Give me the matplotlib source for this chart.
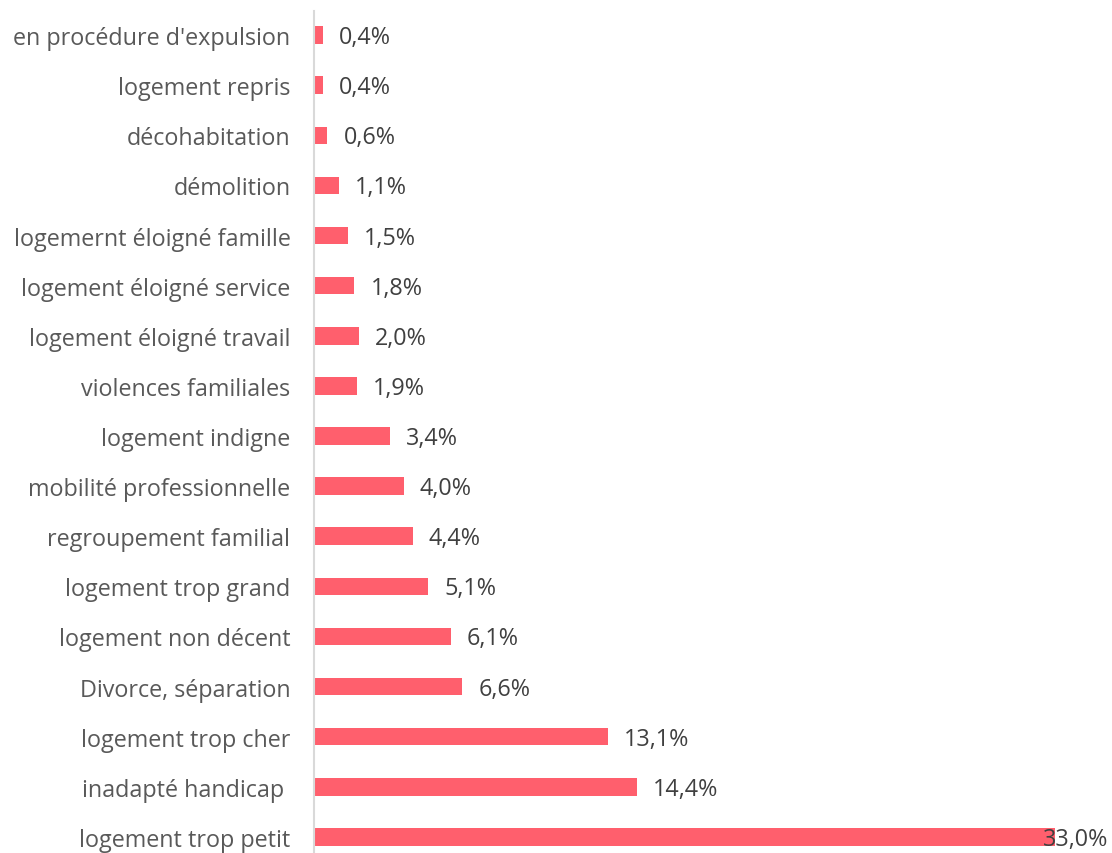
import matplotlib.pyplot as plt

categories = ["logement trop petit", "inadapté handicap ", "logement trop cher",
              "Divorce, séparation", "logement non décent", "logement trop grand",
              "regroupement familial", "mobilité professionnelle", "logement indigne",
              "violences familiales", "logement éloigné travail", "logement éloigné service",
              "logemernt éloigné famille", "démolition", "décohabitation",
              "logement repris", "en procédure d'expulsion"]
values = [33.0, 14.4, 13.1, 6.6, 6.1, 5.1, 4.4, 4.0, 3.4, 1.9, 2.0, 1.8, 1.5, 1.1, 0.6, 0.4, 0.4]
labels = ["33,0%", "14,4%", "13,1%", "6,6%", "6,1%", "5,1%", "4,4%", "4,0%", "3,4%",
          "1,9%", "2,0%", "1,8%", "1,5%", "1,1%", "0,6%", "0,4%", "0,4%"]

plt.rcParams['font.family'] = ['Open Sans', 'DejaVu Sans']
fs = 16.8

fig = plt.figure(figsize=(11.12, 8.54), dpi=100)
ax = fig.add_axes([314 / 1112, 0, 798 / 1112, 1 - 12 / 854])

pos = list(range(len(categories)))
ax.barh(pos, values, height=0.35, color='#FF5F6D')

ax.set_xlim(0, 798 / 22.45)
ax.set_ylim(-0.32, 16.48)
ax.set_yticks(pos)
ax.set_yticklabels(categories, fontsize=fs, color='#595959')
ax.tick_params(axis='y', length=0, pad=17)
ax.set_xticks([])

for s in ['top', 'right', 'bottom']:
    ax.spines[s].set_visible(False)
ax.spines['left'].set_color('#D9D9D9')
ax.spines['left'].set_linewidth(1.5)

for p, v, t in zip(pos, values, labels):
    if v > 30:
        # no room to the right: pull the label back over the bar end
        ax.annotate(t, xy=(1, p), xycoords=('axes fraction', 'data'),
                    xytext=(-4, -2), textcoords='offset pixels',
                    ha='right', va='center', fontsize=fs, color='#404040')
    else:
        ax.annotate(t, xy=(v, p), xytext=(16, -2), textcoords='offset pixels',
                    ha='left', va='center', fontsize=fs, color='#404040')

plt.savefig('out.png', dpi=100)
